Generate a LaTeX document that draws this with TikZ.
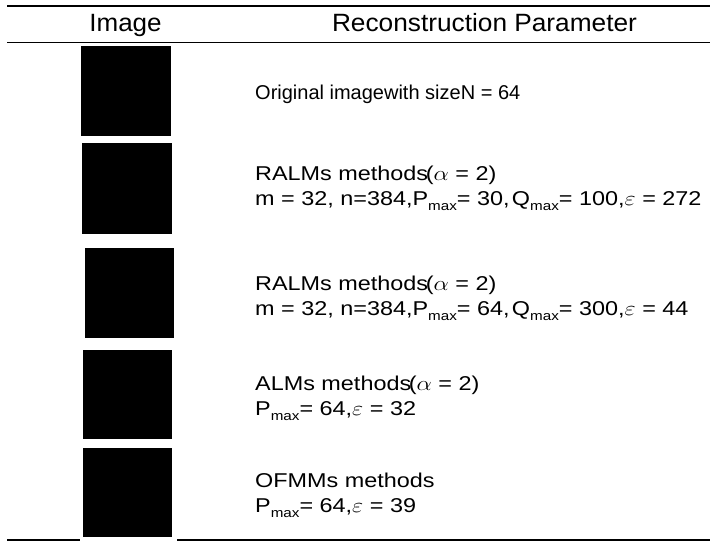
\documentclass[tikz,border=0pt]{standalone}
\usepackage{fontspec}
\usepackage{graphicx}
\setmainfont{Liberation Sans}
\newcommand{\mysub}[1]{\raisebox{-0.28em}{\fontsize{13}{13}\selectfont #1}}
\newcommand{\wide}[1]{\scalebox{1.17}[1]{#1}}
\tikzset{
  hdr/.style={anchor=base, inner sep=0pt, font=\fontsize{25}{30}\selectfont},
  txt/.style={anchor=base west, inner sep=0pt, font=\fontsize{20}{24}\selectfont},
  rulethick/.style={line width=1.8pt},
  rulethin/.style={line width=1.3pt},
  pic/.style={fill=black}
}
\begin{document}
\begin{tikzpicture}[x=1pt,y=-1pt]
\useasboundingbox (0,0) rectangle (710,541);
% rules
\draw[rulethick] (7,6) -- (710,6);
\draw[rulethick] (7,42.5) -- (710,42.5);
\draw[rulethin] (7,540) -- (80,540);
\draw[rulethin] (177,540) -- (710,540);
% header
\node[hdr] (h1) at (125.5,31.7) {\scalebox{1.04}[1]{Image}};
\node[hdr] (h2) at (484.5,31.7) {\scalebox{1.05}[1]{Reconstruction Parameter}};
% images
\fill[pic] (81,46) rectangle (171,136);
\fill[pic] (82,143) rectangle (172,234);
\fill[pic] (85,248) rectangle (174,338);
\fill[pic] (83,350) rectangle (172,439);
\fill[pic] (83,448) rectangle (172,537);
% texts
\node[txt] (r1) at (255,99) {Original imagewith sizeN = 64};
\node[txt] (r2a) at (255,180) {\wide{RALMs methods\kern-2pt($\alpha$ = 2)}};
\node[txt] (r2b) at (255,205) {\wide{m = 32, n=384,P\mysub{max}= 30,\kern2pt Q\mysub{max}= 100,$\varepsilon$ = 272}};
\node[txt] (r3a) at (255,290) {\wide{RALMs methods\kern-2pt($\alpha$ = 2)}};
\node[txt] (r3b) at (255,315) {\wide{m = 32, n=384,P\mysub{max}= 64,\kern2pt Q\mysub{max}= 300,$\varepsilon$ = 44}};
\node[txt] (r4a) at (255,390) {\wide{ALMs methods\kern-2pt($\alpha$ = 2)}};
\node[txt] (r4b) at (255,415) {\wide{P\mysub{max}= 64,$\varepsilon$ = 32}};
\node[txt] (r5a) at (255,487) {\wide{OFMMs methods}};
\node[txt] (r5b) at (255,512) {\wide{P\mysub{max}= 64,$\varepsilon$ = 39}};
\end{tikzpicture}
\end{document}
